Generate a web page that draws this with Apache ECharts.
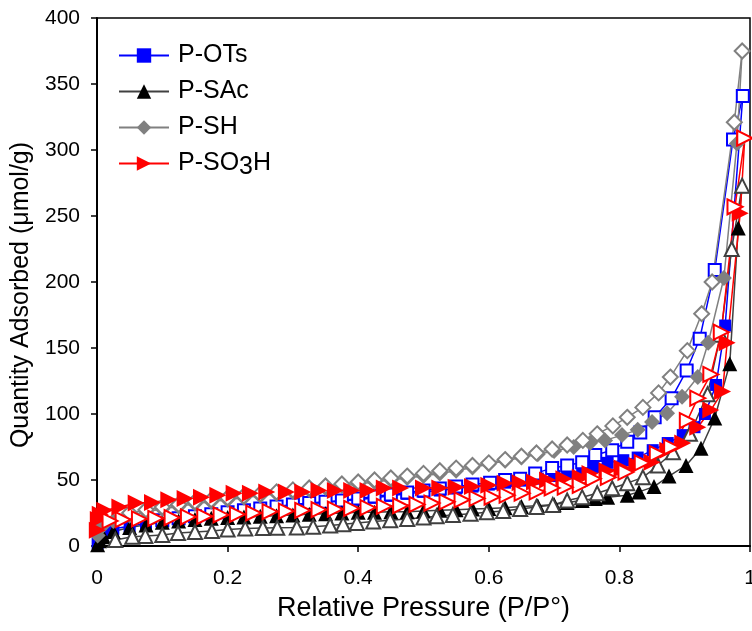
<!DOCTYPE html>
<html>
<head>
<meta charset="utf-8">
<script src="https://cdn.jsdelivr.net/npm/echarts@6/dist/echarts.min.js"></script>
<style>
html,body{margin:0;padding:0;background:#fff;}
#chart{width:752px;height:631px;}
</style>
</head>
<body>
<div id="chart"></div>
<script>
// ---- data: [relative pressure, quantity adsorbed] ----
const seriesNames = ['P-OTs', 'P-SAc', 'P-SH', 'P-SO3H'];
const xTicks = [0, 0.2, 0.4, 0.6, 0.8, 1];
const yTicks = [0, 50, 100, 150, 200, 250, 300, 350, 400];

const otsAds = [[0.001,2],[0.004,6],[0.01,10],[0.025,13],[0.05,15],[0.075,17],[0.1,19],[0.125,20.5],[0.15,22],[0.175,23.5],[0.2,25],[0.225,26.5],[0.25,28],[0.275,29.5],[0.3,31],[0.325,32],[0.35,33],[0.375,34],[0.4,35],[0.425,36.5],[0.45,38],[0.475,39.5],[0.5,41],[0.525,42],[0.55,43.5],[0.575,45],[0.6,46.5],[0.625,48],[0.65,49.5],[0.675,51],[0.7,53],[0.72,55],[0.743,57],[0.76,60],[0.782,63],[0.806,65],[0.828,67],[0.851,72.6],[0.874,78],[0.897,84],[0.915,90],[0.931,100],[0.948,122],[0.962,167],[0.989,341]];
const otsDes = [[0.989,341],[0.974,308],[0.946,209],[0.923,157],[0.903,133],[0.88,112],[0.854,97.5],[0.832,86],[0.812,79],[0.789,72.6],[0.763,69],[0.743,63.5],[0.72,61],[0.697,59],[0.671,55],[0.648,51],[0.625,50],[0.602,48],[0.575,46.5],[0.55,45],[0.525,43.5],[0.5,42],[0.475,40.5],[0.45,39],[0.425,37.5],[0.4,36],[0.375,34.5],[0.35,33.5],[0.325,32.5],[0.3,31.5],[0.275,30],[0.25,28.5],[0.225,27],[0.2,25.5],[0.175,24],[0.15,22.5],[0.125,21],[0.1,19.5]];

const sacAds = [[0.001,1],[0.004,4],[0.01,7],[0.025,11],[0.05,14],[0.075,16],[0.1,18],[0.125,19],[0.15,20],[0.175,21],[0.2,21.5],[0.225,22],[0.25,22.5],[0.275,23],[0.3,23.5],[0.325,24],[0.35,24.5],[0.375,25],[0.4,25.5],[0.425,25.5],[0.45,26],[0.475,26],[0.5,26.5],[0.525,27],[0.55,27.5],[0.575,28],[0.6,28.5],[0.625,29],[0.65,30],[0.675,30.5],[0.7,31.5],[0.72,33],[0.743,34.5],[0.763,36],[0.782,37],[0.812,38.5],[0.83,41],[0.853,45],[0.876,53],[0.902,61],[0.925,74],[0.946,97],[0.969,138],[0.982,241],[0.988,273]];
const sacDes = [[0.988,273],[0.972,225],[0.955,160],[0.935,115],[0.908,85],[0.882,71],[0.859,61],[0.836,52],[0.812,47.6],[0.789,43.8],[0.766,40],[0.743,37],[0.72,34.5],[0.698,31],[0.673,29.5],[0.648,28],[0.622,26.5],[0.597,25.5],[0.572,24.5],[0.545,23.5],[0.52,22.5],[0.5,21.5],[0.475,20.5],[0.449,19.5],[0.423,18.5],[0.398,17.5],[0.377,16.5],[0.357,15.5],[0.331,14.5],[0.306,14],[0.276,13.8],[0.254,13.6],[0.227,13.2],[0.2,12.5],[0.176,11.3],[0.15,10.6],[0.124,9.8],[0.1,8.3],[0.074,7.6],[0.054,7],[0.028,4.5]];

const shAds = [[0.001,8],[0.004,13],[0.01,16],[0.025,19],[0.05,23],[0.075,26],[0.1,28],[0.125,30],[0.15,32],[0.175,33.5],[0.2,35],[0.225,36.5],[0.25,38],[0.275,39.5],[0.3,41],[0.325,42.5],[0.35,44],[0.375,45.5],[0.4,47],[0.425,48.5],[0.45,50],[0.475,51.5],[0.5,53],[0.525,55],[0.55,57],[0.575,59.5],[0.6,62],[0.625,64.5],[0.65,67],[0.675,69.5],[0.7,72],[0.73,75],[0.755,78],[0.778,80],[0.804,84],[0.828,88],[0.85,94],[0.873,100.5],[0.896,113],[0.92,128],[0.936,154],[0.96,203],[0.98,305],[0.988,375]];
const shDes = [[0.988,375],[0.976,321],[0.942,200],[0.926,176],[0.904,148],[0.878,128],[0.86,116],[0.836,105],[0.812,97.5],[0.79,91],[0.766,85],[0.744,80],[0.72,76.5],[0.697,73.5],[0.673,70.5],[0.65,68],[0.625,65.5],[0.6,63],[0.575,61],[0.55,59],[0.525,57],[0.5,55],[0.475,53],[0.45,51.5],[0.425,50],[0.4,48.5],[0.375,47],[0.35,45.5],[0.325,44],[0.3,42.5],[0.275,41],[0.25,39.5],[0.225,38],[0.2,36.5],[0.175,35],[0.15,33.5],[0.125,31.5],[0.1,29.5],[0.075,27.5],[0.05,25]];

const so3hAds = [[0.0005,12],[0.002,20],[0.005,24],[0.012,27],[0.035,29.5],[0.06,32.5],[0.085,33],[0.11,35],[0.135,36],[0.16,37],[0.185,38.5],[0.21,40],[0.235,40],[0.26,41],[0.29,41],[0.315,41],[0.34,42],[0.365,42],[0.39,42],[0.415,42],[0.44,44],[0.465,44],[0.5,44],[0.525,44],[0.55,44.6],[0.575,45],[0.6,46],[0.625,47.5],[0.648,48],[0.67,48.5],[0.69,50],[0.715,51],[0.74,52],[0.755,55],[0.781,57],[0.804,59],[0.827,61],[0.85,63.5],[0.874,72.6],[0.897,78],[0.92,90],[0.94,103],[0.958,117],[0.965,154],[0.985,252],[0.992,309]];
const so3hDes = [[0.992,309],[0.977,257],[0.956,162],[0.94,130],[0.92,112],[0.904,95],[0.88,75],[0.858,70],[0.835,63],[0.81,56],[0.783,52],[0.76,51],[0.74,46],[0.717,44.6],[0.697,44],[0.674,41],[0.651,40],[0.628,38.5],[0.605,37],[0.582,36],[0.559,35],[0.536,33.5],[0.513,32.5],[0.49,31.5],[0.465,30.5],[0.44,30],[0.415,29],[0.39,28.5],[0.365,28],[0.34,27.5],[0.315,27],[0.29,26.5],[0.265,26],[0.24,25],[0.215,24],[0.19,23.5],[0.165,22.5],[0.14,22],[0.115,21.5],[0.09,21],[0.065,20.5],[0.04,20],[0.02,19]];

// ---- chart ----
const FONT = '"Liberation Sans", Arial, sans-serif';
const chart = echarts.init(document.getElementById('chart'), null, {renderer: 'canvas'});

function mk(name, data, symbol, size, color, lineColor, rotate) {
  return {
    name: name, type: 'line', data: data,
    symbol: symbol, symbolSize: size, symbolRotate: rotate || 0,
    showAllSymbol: true,
    itemStyle: {color: color, borderWidth: symbol.indexOf('empty') === 0 ? 2 : 0},
    lineStyle: {color: lineColor, width: 1.5},
    emphasis: {disabled: true},
    animation: false
  };
}

const series = [
  mk('P-OTs', otsAds, 'rect', 12, '#0000ff', '#0000ff'),
  mk('P-OTs des', otsDes, 'emptyRect', 12, '#0000ff', '#0000ff'),
  mk('P-SAc', sacAds, 'triangle', 15, '#000000', '#404040'),
  mk('P-SAc des', sacDes, 'emptyTriangle', 14, '#404040', '#404040'),
  mk('P-SH', shAds, 'diamond', 16, '#808080', '#808080'),
  mk('P-SH des', shDes, 'emptyDiamond', 15, '#808080', '#808080'),
  mk('P-SO3H', so3hAds, 'triangle', 17, '#ff0000', '#ff0000', -90),
  mk('P-SO3H des', so3hDes, 'emptyTriangle', 15, '#ff0000', '#ff0000', -90)
];

chart.setOption({
  backgroundColor: '#fff',
  animation: false,
  grid: {left: 97, right: 2, top: 18, bottom: 85, show: true, borderColor: '#000', borderWidth: 1.5,
    backgroundColor: 'transparent', containLabel: false, outerBoundsMode: 'none'},
  legend: {
    data: seriesNames,
    orient: 'vertical', left: 113, top: 38,
    itemWidth: 50, itemHeight: 18, itemGap: 11,
    textStyle: {
      fontSize: 25, color: '#000', fontFamily: FONT, padding: [0, 0, 0, 4],
      rich: {sub: {fontSize: 25, color: '#000', fontFamily: FONT, padding: [8, 0, 0, 0]}}
    },
    formatter: function (n) { return n === 'P-SO3H' ? 'P-SO{sub|3}H' : n; },
    selectedMode: false
  },
  xAxis: {
    type: 'value', min: xTicks[0], max: xTicks[xTicks.length - 1], interval: 0.2,
    name: 'Relative Pressure (P/P°)', nameLocation: 'middle', nameGap: 49,
    nameTextStyle: {fontSize: 27, color: '#000', fontFamily: FONT},
    axisLine: {show: true, lineStyle: {color: '#000', width: 2}},
    axisTick: {show: true, inside: false, length: 6, lineStyle: {color: '#000', width: 1.5}},
    axisLabel: {fontSize: 21, color: '#000', fontFamily: FONT, margin: 22,
      formatter: function (v) { return (v === 0 || v === 1) ? String(v) : v.toFixed(1); }},
    splitLine: {show: false}
  },
  yAxis: {
    type: 'value', min: yTicks[0], max: yTicks[yTicks.length - 1], interval: 50,
    name: 'Quantity Adsorbed (μmol/g)', nameLocation: 'middle', nameGap: 56,
    nameTextStyle: {fontSize: 25, color: '#000', fontFamily: FONT, padding: [0, 26, 0, 0]},
    axisLine: {show: true, lineStyle: {color: '#000', width: 2}},
    axisTick: {show: true, inside: false, length: 6, lineStyle: {color: '#000', width: 1.5}},
    axisLabel: {fontSize: 21, color: '#000', fontFamily: FONT, margin: 17},
    splitLine: {show: false}
  },
  series: series
});
</script>
</body>
</html>
